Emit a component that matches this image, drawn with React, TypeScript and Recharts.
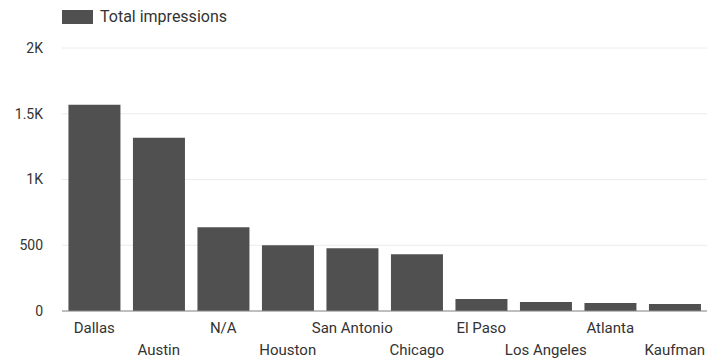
import React from 'react';
import { BarChart, Bar, XAxis, YAxis, CartesianGrid, Legend } from 'recharts';

const cities = ['Dallas', 'Austin', 'N/A', 'Houston', 'San Antonio', 'Chicago', 'El Paso', 'Los Angeles', 'Atlanta', 'Kaufman'];
const impressions = [1568, 1318, 636, 500, 477, 432, 91, 68, 61, 53];
const yTicks = [0, 500, 1000, 1500, 2000];

const data = cities.map((city, i) => ({ city, impressions: impressions[i] }));

const fmt = (v: number) => (v >= 1000 ? `${v / 1000}K` : `${v}`);

// labels alternate between two rows so long names don't collide
const CityTick = (props: any) => {
    const { x, y, payload, index } = props;
    const row = index % 2 === 0 ? 0 : 22;
    return (
        <text x={x} y={y + row} dy={14} textAnchor="middle" fill="#333" fontSize={15} fontFamily="Roboto">
            {payload.value}
        </text>
    );
};

const LegendBox = () => (
    <div style={{ display: 'flex', alignItems: 'center', fontFamily: 'Roboto', fontSize: 16, color: '#333', lineHeight: '14px' }}>
        <span style={{ display: 'inline-block', width: 31, height: 14, background: '#505050', marginRight: 7 }} />
        Total impressions
    </div>
);

export default function App() {
    return (
        <div style={{ position: 'absolute', left: 0, top: 0, background: '#fff' }}>
            <BarChart width={727} height={360} data={data} margin={{ top: 34, right: 20, left: 0, bottom: 0 }} barCategoryGap="10%">
                <CartesianGrid vertical={false} stroke="#ececec" />
                <Legend
                    verticalAlign="top"
                    content={<LegendBox />}
                    wrapperStyle={{ position: 'absolute', top: 10, left: 62, width: 'auto', height: 14 }}
                />
                <XAxis
                    dataKey="city"
                    interval={0}
                    height={49}
                    tickLine={false}
                    axisLine={{ stroke: '#888' }}
                    tick={<CityTick />}
                />
                <YAxis
                    width={62}
                    domain={[0, 2000]}
                    ticks={yTicks}
                    tickFormatter={fmt}
                    axisLine={false}
                    tickLine={false}
                    tick={{ fill: '#333', fontSize: 14, fontFamily: 'Roboto' }}
                    tickMargin={13}
                />
                <Bar dataKey="impressions" fill="#505050" isAnimationActive={false} />
            </BarChart>
        </div>
    );
}
